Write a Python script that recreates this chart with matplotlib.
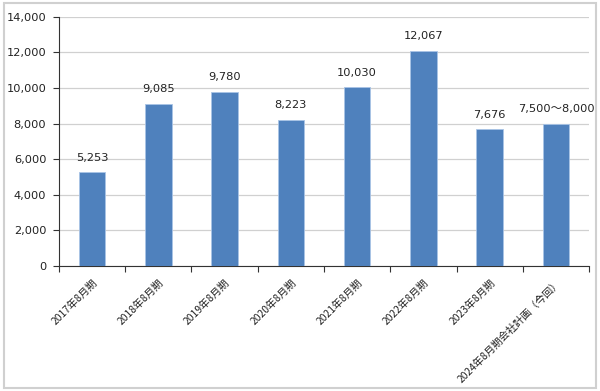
import matplotlib
matplotlib.use("Agg")
import matplotlib.pyplot as plt
from matplotlib.patches import Rectangle

plt.rcParams["font.family"] = ["DejaVu Sans", "Noto Sans CJK JP"]

# ── Data ──────────────────────────────────────────────────────────────────────
periods = ["2017年8月期", "2018年8月期", "2019年8月期", "2020年8月期",
           "2021年8月期", "2022年8月期", "2023年8月期", "2024年8月期会社計画（今回）"]
values = [5253, 9085, 9780, 8223, 10030, 12067, 7676, 8000]
labels = ["5,253", "9,085", "9,780", "8,223", "10,030", "12,067", "7,676", "7,500～8,000"]
yticks = [0, 2000, 4000, 6000, 8000, 10000, 12000, 14000]

BLUE = "#4F81BD"
GRID = "#d0d0d0"

# ── Chart ─────────────────────────────────────────────────────────────────────
fig = plt.figure(figsize=(6, 3.91), dpi=100)
ax = fig.add_axes([0.098, 0.320, 0.884, 0.637])

x = range(len(values))
ax.bar(x, values, width=0.4, color=BLUE, edgecolor="#a9c4e6", linewidth=0.6, zorder=3)

for xi, v, lab in zip(x, values, labels):
    ax.text(xi, v + 550, lab, ha="center", va="bottom", fontsize=8.2,
            family=["DejaVu Sans", "Noto Sans CJK JP"], color="#222222")

ax.set_xlim(-0.5, len(values) - 0.5)
ax.set_ylim(0, 14000)
ax.set_yticks(yticks)
ax.set_yticklabels([f"{t:,}" for t in yticks], fontsize=8.2, color="#222222")
ax.yaxis.grid(True, color=GRID, lw=0.9, zorder=0)

# category boundaries as ticks
ax.set_xticks([i - 0.5 for i in range(len(values) + 1)], minor=False)
ax.set_xticklabels([])
ax.set_xticks(list(x), minor=True)
ax.set_xticklabels(periods, minor=True, rotation=45, ha="right", rotation_mode="anchor",
                   fontsize=7.4, family=["Noto Sans CJK JP", "DejaVu Sans"], color="#222222")
ax.tick_params(axis="x", which="minor", length=0, pad=8)
ax.tick_params(axis="x", which="major", length=4, direction="out", color="#333333")
ax.tick_params(axis="y", length=4, direction="out", color="#333333", pad=5)

ax.spines[["top", "right"]].set_visible(False)
ax.spines["left"].set_color("#333333")
ax.spines["bottom"].set_color("#333333")

# outer frame
fig.patches.append(Rectangle((0.006, 0.008), 0.988, 0.984, transform=fig.transFigure,
                             fill=False, edgecolor="#d0d0d0", lw=1.5))

plt.savefig("out.png", dpi=100)
